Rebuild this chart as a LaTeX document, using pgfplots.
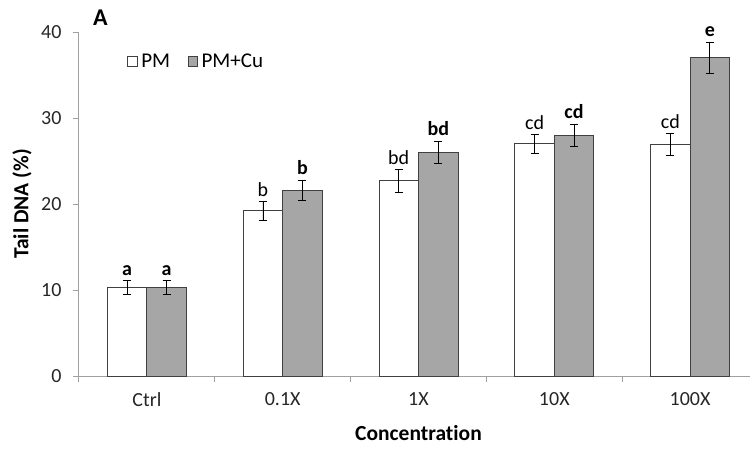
\documentclass[border=0pt]{standalone}
\usepackage{fontspec}
\setmainfont{Carlito}[Ligatures=NoCommon]
\usepackage{pgfplots}
\usepackage{pgfplotstable}
\pgfplotsset{compat=1.18}

\definecolor{barfill}{HTML}{A6A6A6}
\definecolor{baredge}{HTML}{404040}
\definecolor{axisgrey}{HTML}{A0A0A0}

% mean, error, significance letter
\pgfplotstableread{
x y e lab
0 10.3 0.8 \textbf{a}
1 19.2 1.1 b
2 22.7 1.3 bd
3 27.0 1.1 cd
4 26.9 1.3 cd
}\tabpm
\pgfplotstableread{
x y e lab
0 10.3 0.8 a
1 21.6 1.2 b
2 26.0 1.3 bd
3 28.0 1.3 cd
4 37.0 1.8 e
}\tabcu

\newcommand\tickfont{\fontsize{20}{22}\selectfont}
\newcommand\legfont{\fontsize{21}{23}\selectfont}
\newcommand\labfont{\bfseries\fontsize{21.5}{23}\selectfont}

\begin{document}
\begin{tikzpicture}
\begin{axis}[
  at={(0,0)}, anchor=south west,
  scale only axis, width=679pt, height=344pt,
  xmin=-0.5, xmax=4.5, ymin=0, ymax=40,
  ytick={0,10,20,30,40},
  xtick={-0.5,0.5,1.5,2.5,3.5,4.5}, xticklabels=\empty,
  extra x ticks={0,1,2,3,4},
  extra x tick labels={Ctrl,0.1X,1X,10X,100X},
  extra x tick style={major tick length=0pt},
  axis x line*=bottom, axis y line*=left,
  axis line style={axisgrey, line width=1pt, -},
  tick style={axisgrey, line width=1pt},
  major tick length=6pt, tick align=outside,
  ticklabel style={font=\tickfont, text=black!85},
  xticklabel style={yshift=-13pt},
  yticklabel style={xshift=-8pt},
  /pgf/number format/assume math mode=true,
  xlabel={Concentration}, ylabel={Tail DNA (\%)},
  xlabel style={font=\labfont, at={(axis description cs:0.5,-0.167)}, anchor=center},
  ylabel style={font=\labfont, at={(axis description cs:-0.0839,0.5)}, anchor=center},
  ybar=0pt, bar width=39.5pt,
  clip=false,
  legend columns=2,
  legend image code/.code={\draw[#1] (0pt,-4.75pt) rectangle (9.5pt,4.75pt); \path (12.5pt,0pt);},
  legend style={at={(axis description cs:0.0711,0.915)}, anchor=west,
    draw=none, fill=none, inner sep=0pt, font=\legfont,
    nodes={inner sep=0.5pt},
    /tikz/every even column/.append style={column sep=17pt}},
]
\addplot[bar shift=-19.75pt, draw=baredge, line width=0.9pt, fill=white,
  error bars/.cd, y dir=both, y explicit,
  error bar style={black, line width=0.8pt},
  error mark options={rotate=90, mark size=4pt, black, line width=0.8pt}]
  table[x=x, y=y, y error=e]{\tabpm};
\addlegendentry{PM}
\addplot[bar shift=19.75pt, draw=baredge, line width=0.9pt, fill=barfill,
  error bars/.cd, y dir=both, y explicit,
  error bar style={black, line width=0.8pt},
  error mark options={rotate=90, mark size=4pt, black, line width=0.8pt}]
  table[x=x, y=y, y error=e]{\tabcu};
\addlegendentry{PM+Cu}
% significance letters above the error bars
\addplot[forget plot, bar shift=-19.75pt, draw=none, fill=none,
  nodes near coords, point meta=explicit symbolic,
  every node near coord/.append style={font=\tickfont, text=black, anchor=south, inner sep=0pt, yshift=5pt}]
  table[x=x, y expr=\thisrow{y}+\thisrow{e}, meta=lab]{\tabpm};
\addplot[forget plot, bar shift=19.75pt, draw=none, fill=none,
  nodes near coords, point meta=explicit symbolic,
  every node near coord/.append style={font=\tickfont\bfseries, text=black, anchor=south, inner sep=0pt, yshift=5pt}]
  table[x=x, y expr=\thisrow{y}+\thisrow{e}, meta=lab]{\tabcu};
\node[anchor=south west, inner sep=0pt, font=\bfseries\fontsize{24}{24}\selectfont,
  xshift=14pt, yshift=6pt] at (rel axis cs:0,1) {A};
\end{axis}
\pgfresetboundingbox
\path (-79pt,-72pt) rectangle (671pt,376pt);
\end{tikzpicture}
\end{document}
